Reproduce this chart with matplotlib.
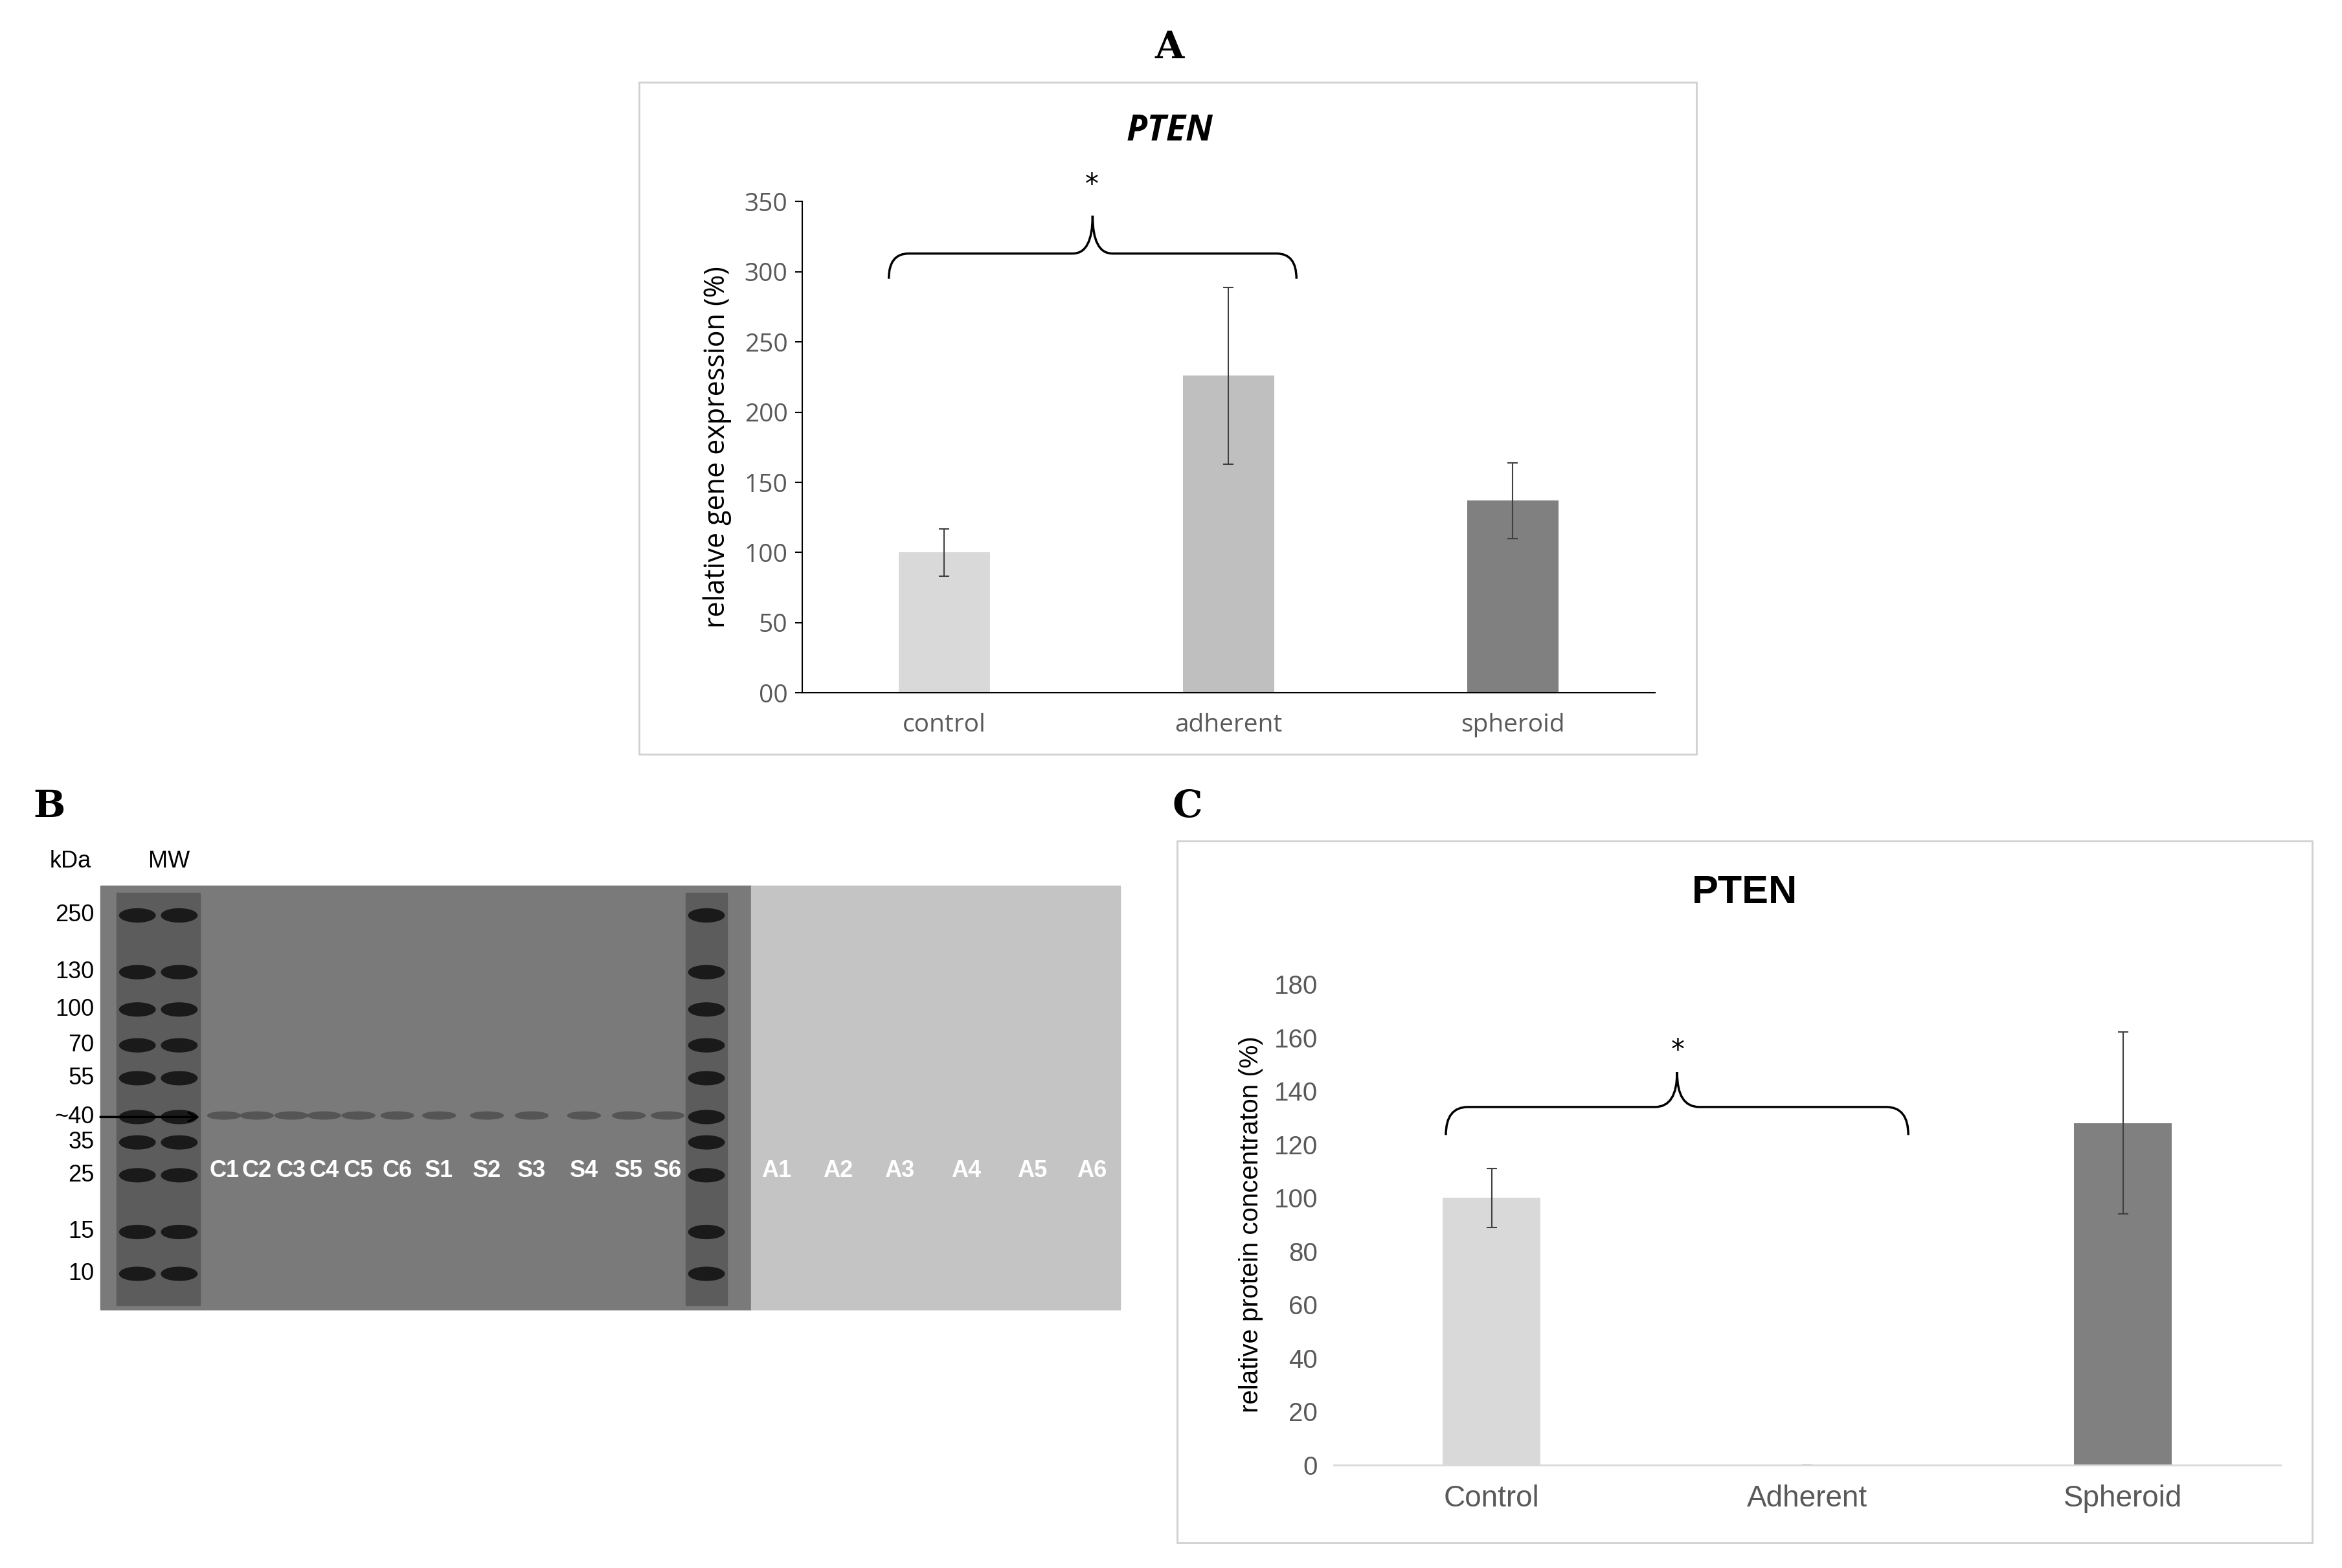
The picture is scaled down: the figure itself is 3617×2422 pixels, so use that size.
import matplotlib
matplotlib.use('Agg')
from matplotlib import pyplot as plt
from matplotlib.patches import Rectangle, Ellipse, PathPatch
from matplotlib.path import Path

# panel A data
groups_a = ['control', 'adherent', 'spheroid']
values_a = [100, 226, 137]
errors_a = [17, 63, 27]
ticks_a = [0, 50, 100, 150, 200, 250, 300, 350]
ticklabels_a = ['00', '50', '100', '150', '200', '250', '300', '350']

# panel C data
groups_c = ['Control', 'Adherent', 'Spheroid']
values_c = [100, 0, 128]
errors_c = [11, 0, 34]
ticks_c = [0, 20, 40, 60, 80, 100, 120, 140, 160, 180]

colors = ['#d9d9d9', '#bfbfbf', '#808080']

# blot labels (page pixel coords)
kda_labels = ['250', '130', '100', '70', '55', '~40', '35', '25', '15', '10']
kda_y = [613, 651, 676, 700, 722, 748, 765, 787, 825, 853]
lane_labels = ['C1', 'C2', 'C3', 'C4', 'C5', 'C6', 'S1', 'S2', 'S3', 'S4', 'S5', 'S6']
lane_x = [150, 172, 195, 217, 240, 266, 294, 326, 356, 391, 421, 447]
a_labels = ['A1', 'A2', 'A3', 'A4', 'A5', 'A6']
a_x = [520, 561, 602, 647, 691, 731]

W, H = 1568, 1050
fig = plt.figure(figsize=(36.17, 24.22), dpi=100)


def frac(x0, y0, x1, y1):
    return [x0 / W, 1 - y1 / H, (x1 - x0) / W, (y1 - y0) / H]


page = fig.add_axes([0, 0, 1, 1])
page.set_xlim(0, W)
page.set_ylim(H, 0)
page.axis('off')

# panel frames
page.add_patch(Rectangle((428, 55), 708, 450, fill=False, ec='#d0d0d0', lw=2))
page.add_patch(Rectangle((788, 563), 760, 470, fill=False, ec='#d0d0d0', lw=2))
for letter, x, y in [('A', 783, 32), ('B', 33, 540), ('C', 795, 540)]:
    page.text(x, y, letter, fontsize=42, fontweight='bold', family='DejaVu Serif',
              ha='center', va='center')
page.text(783, 88, 'PTEN', fontsize=40, fontweight='bold', style='italic',
          family='Open Sans', ha='center', va='center')
page.text(1168, 598, 'PTEN', fontsize=44, fontweight='bold',
          family='Liberation Sans', ha='center', va='center')

# blot
page.add_patch(Rectangle((67, 593), 436, 284, color='#7a7a7a', zorder=1))
page.add_patch(Rectangle((503, 593), 247, 284, color='#c4c4c4', zorder=1))
for lx in [92, 120, 473]:
    page.add_patch(Rectangle((lx - 14, 598), 28, 276, color='#5c5c5c', zorder=2))
    for y in kda_y:
        page.add_patch(Ellipse((lx, y), 24, 9, color='#1a1a1a', zorder=3))
for x in lane_x:
    page.add_patch(Ellipse((x, 747), 22, 5, color='#555555', zorder=2))
page.text(47, 577, 'kDa', fontsize=26, ha='center', va='center', family='Liberation Sans')
page.text(113, 577, 'MW', fontsize=26, ha='center', va='center', family='Liberation Sans')
for lab, y in zip(kda_labels, kda_y):
    page.text(63, y, lab, fontsize=26, ha='right', va='center', family='Liberation Sans')
page.annotate('', xy=(135, 748), xytext=(66, 748),
              arrowprops=dict(arrowstyle='->', lw=2.5, color='black', mutation_scale=25))
for lab, x in zip(lane_labels + a_labels, lane_x + a_x):
    page.text(x, 784, lab, fontsize=26, ha='center', va='center', color='white',
              fontweight='bold', family='Liberation Sans', zorder=4)


def brace(ax, x0, x1, ylow, yflat, ytop, r):
    xm = (x0 + x1) / 2
    verts = [(x0, ylow), (x0, yflat), (x0 + r, yflat),
             (xm - r, yflat), (xm, yflat), (xm, ytop),
             (xm, ytop), (xm, yflat), (xm + r, yflat),
             (x1 - r, yflat), (x1, yflat), (x1, ylow)]
    codes = [Path.MOVETO, Path.CURVE3, Path.CURVE3,
             Path.LINETO, Path.CURVE3, Path.CURVE3,
             Path.MOVETO, Path.CURVE3, Path.CURVE3,
             Path.LINETO, Path.CURVE3, Path.CURVE3]
    ax.add_patch(PathPatch(Path(verts, codes), fill=False, lw=2.5, clip_on=False))


# panel A chart
ax = fig.add_axes(frac(537, 135, 1108, 464))
x = range(len(groups_a))
ax.bar(x, values_a, width=0.32, color=colors, yerr=errors_a,
       error_kw=dict(ecolor='#404040', lw=1.5, capsize=6, capthick=1.5))
ax.set_xlim(-0.5, 2.5)
ax.set_ylim(0, 350)
ax.set_yticks(ticks_a)
ax.set_yticklabels(ticklabels_a)
ax.set_xticks(list(x))
ax.set_xticklabels(groups_a)
ax.tick_params(axis='y', labelsize=28, labelcolor='#595959', length=8, width=1.5, pad=8)
ax.tick_params(axis='x', labelsize=28, labelcolor='#595959', length=0, pad=22)
for lab in ax.get_xticklabels() + ax.get_yticklabels():
    lab.set_family('Open Sans')
ax.spines['top'].set_visible(False)
ax.spines['right'].set_visible(False)
ax.spines['left'].set_linewidth(1.5)
ax.spines['bottom'].set_linewidth(1.5)
ax.set_ylabel('relative gene expression (%)', fontsize=31, family='Open Sans', labelpad=14)
brace(ax, -0.195, 1.239, 295, 313, 340, 0.07)
ax.text(0.52, 352, '*', fontsize=30, ha='center', va='bottom', clip_on=False)

# panel C chart
axc = fig.add_axes(frac(893, 659, 1527, 981))
axc.bar(x, values_c, width=0.31, color=colors, yerr=errors_c,
        error_kw=dict(ecolor='#404040', lw=1.5, capsize=6, capthick=1.5))
axc.set_xlim(-0.5, 2.5)
axc.set_ylim(0, 180)
axc.set_yticks(ticks_c)
axc.set_xticks(list(x))
axc.set_xticklabels(groups_c)
axc.tick_params(axis='y', labelsize=29, labelcolor='#595959', length=0, pad=18)
axc.tick_params(axis='x', labelsize=33, labelcolor='#595959', length=0, pad=22)
for lab in axc.get_xticklabels() + axc.get_yticklabels():
    lab.set_family('Liberation Sans')
for s in ['top', 'right', 'left']:
    axc.spines[s].set_visible(False)
axc.spines['bottom'].set_color('#d9d9d9')
axc.spines['bottom'].set_linewidth(2)
axc.set_ylabel('relative protein concentraton (%)', fontsize=29, family='Liberation Sans', labelpad=12)
brace(axc, -0.145, 1.32, 123.5, 134, 147, 0.07)
axc.text(0.59, 150, '*', fontsize=30, ha='center', va='bottom', clip_on=False)

fig.savefig('out.png', dpi=100)
